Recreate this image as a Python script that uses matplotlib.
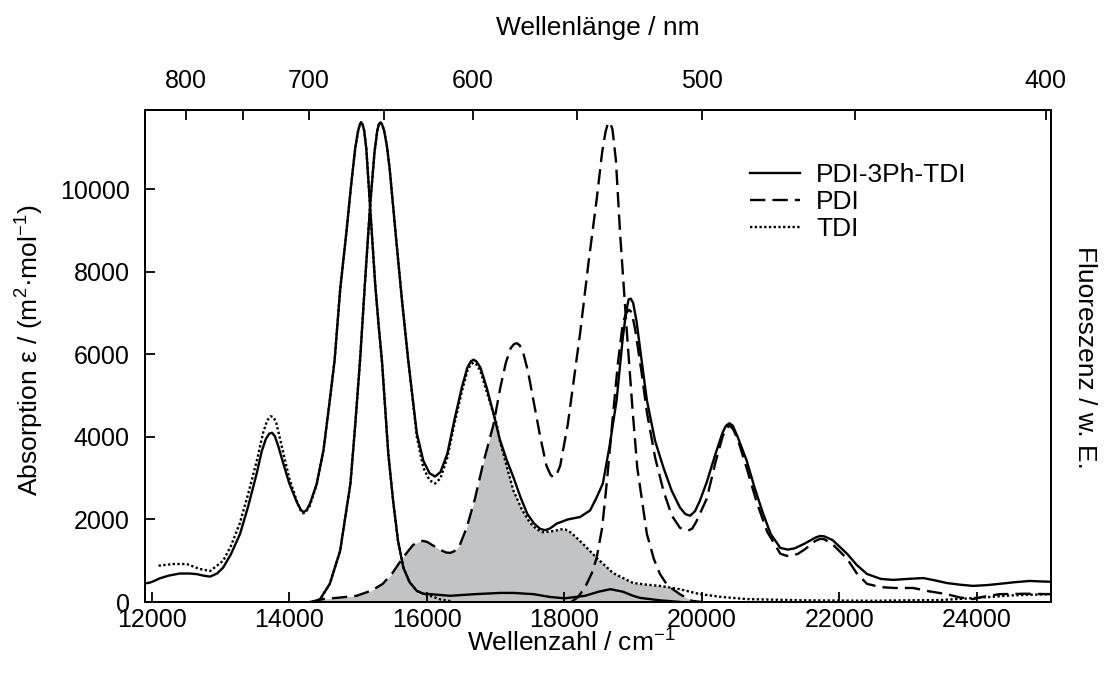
import numpy as np
import matplotlib
matplotlib.use("Agg")
import matplotlib.pyplot as plt
from matplotlib.lines import Line2D

plt.rcParams['font.family'] = ['Liberation Sans', 'DejaVu Sans']
plt.rcParams['mathtext.fontset'] = 'custom'
plt.rcParams['mathtext.rm'] = 'Liberation Sans'
plt.rcParams['mathtext.it'] = 'Liberation Sans:italic'

# ---------------- data (wavenumber in cm^-1) ----------------
# PDI-3Ph-TDI, low-energy branch
dyad_a_x = [11903, 11975, 12050, 12120, 12250, 12410, 12550, 12655, 12750, 12850, 12950, 13040,
            13150, 13285, 13400, 13525, 13600, 13660, 13710, 13750, 13790, 13840, 13915, 14000,
            14110, 14170, 14205, 14250, 14300, 14400, 14500, 14590, 14660, 14740, 14830, 14900,
            14960, 15000, 15025, 15045, 15065, 15090, 15120, 15175, 15250, 15300, 15350, 15440,
            15510, 15580, 15660, 15750, 15855, 15950, 16050, 16340, 16700, 17070, 17260, 17550,
            17800, 18010, 18300, 18500, 18670, 18850, 19000, 19100, 19390, 19700]
dyad_a_y = [450, 470, 520, 575, 640, 690, 690, 675, 640, 615, 690, 835,
            1150, 1650, 2300, 3100, 3650, 3950, 4080, 4100, 4020, 3780, 3350, 2880,
            2420, 2230, 2180, 2220, 2380, 2860, 3700, 4890, 5860, 7560, 8940, 10100,
            11000, 11400, 11560, 11620, 11580, 11420, 11000, 9600, 7700, 6700, 5800, 3600,
            2460, 1500, 830, 480, 270, 200, 190, 150, 190, 220, 220, 190,
            120, 90, 150, 250, 310, 250, 150, 100, 40, 0]
# PDI-3Ph-TDI, high-energy branch
dyad_b_x = [14350, 14450, 14590, 14740, 14890, 14960, 15030, 15100, 15175, 15240, 15280, 15305,
            15325, 15350, 15380, 15420, 15460, 15560, 15640, 15730, 15855, 15950, 16040, 16120,
            16200, 16300, 16400, 16510, 16590, 16640, 16680, 16720, 16780, 16870, 16970, 17060,
            17160, 17260, 17360, 17460, 17560, 17650, 17720, 17790, 17890, 18050, 18230, 18375,
            18460, 18560, 18660, 18760, 18850, 18900, 18935, 18965, 19000, 19050, 19120, 19200,
            19320, 19440, 19560, 19680, 19760, 19830, 19900, 19970, 20070, 20200, 20300, 20350,
            20400, 20450, 20520, 20650, 20770, 20890, 21000, 21140, 21250, 21350, 21500, 21650,
            21720, 21780, 21900, 22110, 22250, 22400, 22600, 22780, 23000, 23220, 23400, 23560,
            23750, 23940, 24150, 24330, 24550, 24770, 24900, 25076]
dyad_b_y = [0, 70, 440, 1240, 2870, 4300, 5860, 7700, 9580, 10900, 11420, 11580,
            11620, 11570, 11420, 11050, 10500, 8700, 7300, 5860, 4090, 3420, 3120, 3040,
            3150, 3600, 4400, 5200, 5680, 5830, 5870, 5830, 5680, 5200, 4570, 3950,
            3450, 3020, 2550, 2140, 1900, 1770, 1740, 1780, 1900, 2000, 2060, 2220,
            2500, 2870, 3800, 4890, 6400, 7050, 7330, 7350, 7250, 6800, 5900, 4890,
            3900, 3260, 2700, 2290, 2130, 2090, 2200, 2450, 2900, 3600, 4100, 4270,
            4330, 4270, 4000, 3430, 2750, 2140, 1650, 1310, 1270, 1300, 1420, 1560,
            1600, 1590, 1500, 1170, 900, 680, 560, 535, 560, 580, 520, 460,
            420, 390, 410, 440, 480, 510, 500, 490]

# TDI (dotted), low-energy branch
tdi_a_x = [12100, 12200, 12310, 12510, 12700, 12850, 13040, 13150, 13280, 13400, 13530, 13620,
           13680, 13730, 13770, 13810, 13860, 13915, 14000, 14110, 14170, 14205, 14250, 14300,
           14400, 14500, 14590, 14660, 14740, 14830, 14900, 14960, 15000, 15025, 15045, 15065,
           15090, 15120, 15175, 15250, 15300, 15350, 15440, 15510, 15580, 15660, 15750, 15855,
           15950, 16050, 16200, 16350]
tdi_a_y = [880, 900, 920, 920, 800, 750, 1000, 1350, 1900, 2600, 3430, 4100,
           4400, 4500, 4480, 4350, 4000, 3600, 3000, 2450, 2200, 2150, 2200, 2330,
           2850, 3700, 4890, 5860, 7560, 8940, 10100, 11000, 11400, 11560, 11620, 11580,
           11420, 11000, 9600, 7700, 6700, 5800, 3600, 2460, 1500, 830, 480, 270,
           200, 150, 60, 20]
# TDI (dotted), high-energy branch
tdi_b_x = [14350, 14450, 14590, 14740, 14890, 14960, 15030, 15100, 15175, 15240, 15280, 15305,
           15325, 15350, 15380, 15420, 15460, 15560, 15640, 15730, 15855, 15950, 16040, 16120,
           16200, 16300, 16400, 16510, 16590, 16640, 16680, 16720, 16780, 16870, 17015, 17060,
           17160, 17260, 17380, 17500, 17600, 17690, 17850, 17950, 18010, 18080, 18150, 18270,
           18470, 18710, 19000, 19200, 19390, 19680, 19970, 20300, 20650, 21500, 22500, 23500,
           24000, 24500, 25076]
tdi_b_y = [0, 70, 440, 1240, 2870, 4300, 5860, 7700, 9580, 10900, 11420, 11580,
           11620, 11570, 11420, 11050, 10500, 8700, 7300, 5860, 4000, 3250, 2950, 2870,
           3000, 3500, 4300, 5100, 5600, 5760, 5800, 5760, 5600, 5100, 4320, 3920,
           3300, 2700, 2250, 1920, 1760, 1690, 1720, 1760, 1760, 1700, 1600, 1410,
           1070, 700, 460, 420, 390, 310, 190, 120, 70, 40, 30, 50,
           100, 160, 190]

# PDI (dashed), emission
pdi_fl_x = [14300, 14490, 14750, 14980, 15200, 15360, 15500, 15650, 15800, 15880, 15940, 16000,
            16080, 16200, 16280, 16340, 16400, 16480, 16580, 16700, 16820, 16970, 17070, 17150,
            17220, 17270, 17310, 17350, 17400, 17470, 17550, 17650, 17740, 17800, 17840, 17880,
            17940, 18050, 18230, 18350, 18470, 18550, 18600, 18635, 18665, 18700, 18750, 18810,
            18910, 18990, 19060, 19200, 19300, 19390, 19500, 19680, 19850, 20000]
pdi_fl_y = [0, 70, 110, 150, 280, 440, 700, 1070, 1380, 1460, 1480, 1460,
            1380, 1260, 1200, 1190, 1230, 1380, 1800, 2500, 3360, 4300, 5200, 5800,
            6150, 6250, 6270, 6220, 6050, 5600, 4890, 4000, 3300, 3080, 3020, 3060,
            3300, 4300, 6520, 8200, 9750, 10900, 11400, 11600, 11620, 11450, 10700, 8950,
            6520, 4700, 3260, 1650, 1050, 680, 400, 190, 30, 0]
# PDI (dashed), absorption
pdi_abs_x = [18100, 18200, 18300, 18400, 18470, 18550, 18620, 18700, 18780, 18850, 18900, 18940,
             18980, 19030, 19120, 19200, 19320, 19440, 19560, 19680, 19750, 19800, 19860, 19920,
             20070, 20200, 20300, 20350, 20400, 20450, 20520, 20650, 20800, 20950, 21140, 21230,
             21310, 21400, 21500, 21650, 21720, 21780, 21900, 22110, 22250, 22400, 22600, 22800,
             23070, 23300, 23560, 23750, 23940, 24100, 24330, 24700, 25076]
pdi_abs_y = [0, 120, 350, 700, 1070, 1800, 2940, 4400, 5800, 6750, 7000, 7080,
             7020, 6600, 5600, 4600, 3500, 2700, 2100, 1800, 1740, 1730, 1780, 1950,
             2500, 3400, 4000, 4200, 4270, 4200, 3950, 3250, 2400, 1700, 1170, 1120,
             1120, 1170, 1280, 1480, 1530, 1520, 1400, 1050, 700, 440, 360, 340,
             340, 260, 190, 110, 70, 130, 190, 200, 190]

# spectral overlap (grey area, upper boundary)
overlap_x = [14300, 14490, 14750, 14980, 15200, 15360, 15500, 15650, 15800, 15880, 15940, 16000,
             16080, 16200, 16280, 16340, 16400, 16480, 16580, 16700, 16820, 16970, 17015, 17060,
             17160, 17260, 17380, 17500, 17600, 17690, 17850, 17950, 18010, 18080, 18150, 18270,
             18470, 18710, 19000, 19200, 19390, 19480, 19680, 19850, 20000]
overlap_y = [0, 70, 110, 150, 280, 440, 700, 1070, 1380, 1460, 1480, 1460,
             1380, 1260, 1200, 1190, 1230, 1380, 1800, 2500, 3360, 4300, 4320, 3920,
             3300, 2700, 2250, 1920, 1760, 1690, 1720, 1760, 1760, 1700, 1600, 1410,
             1070, 700, 460, 420, 390, 390, 190, 30, 0]

x_ticks = [12000, 14000, 16000, 18000, 20000, 22000, 24000]
y_ticks = [0, 2000, 4000, 6000, 8000, 10000]
nm_major = [800, 700, 600, 500, 400]
nm_minor = [750, 650, 550, 450]
legend_labels = ['PDI-3Ph-TDI', 'PDI', 'TDI']

# ---------------- figure ----------------
W, H = 1108, 677
fig = plt.figure(figsize=(W / 100, H / 100), dpi=100)
ax = fig.add_axes([145 / W, 1 - 602 / H, (1051 - 145) / W, (602 - 110) / H])

lw = 1.7
dash = (0, (6.5, 3.0))
dot = (0, (1.0, 1.0))

ax.fill_between(overlap_x, 0, overlap_y, color='#c2c3c5', lw=0, zorder=1)

ax.plot(dyad_a_x, dyad_a_y, color='black', lw=lw, ls='-', zorder=3)
ax.plot(dyad_b_x, dyad_b_y, color='black', lw=lw, ls='-', zorder=3)
ax.plot(pdi_fl_x, pdi_fl_y, color='black', lw=lw, ls=dash, zorder=3)
ax.plot(pdi_abs_x, pdi_abs_y, color='black', lw=lw, ls=dash, zorder=3)
ax.plot(tdi_a_x, tdi_a_y, color='black', lw=lw, ls=dot, zorder=4)
ax.plot(tdi_b_x, tdi_b_y, color='black', lw=lw, ls=dot, zorder=4)

ax.set_xlim(11903, 25076)
ax.set_ylim(0, 11920)
ax.set_xticks(x_ticks)
ax.set_yticks(y_ticks)
fs_tick = 18
fs_lab = 19
ax.tick_params(axis='x', direction='in', length=7, width=1.3, labelsize=fs_tick, pad=4,
               top=False)
ax.tick_params(axis='y', direction='in', length=7, width=1.3, labelsize=fs_tick, pad=11,
               right=False)
for s in ax.spines.values():
    s.set_linewidth(1.4)

ax2 = ax.twiny()
ax2.set_xlim(ax.get_xlim())
ax2.set_xticks([1e7 / v for v in nm_major])
ax2.set_xticklabels([str(v) for v in nm_major])
ax2.set_xticks([1e7 / v for v in nm_minor], minor=True)
ax2.tick_params(which='both', direction='in', length=7, width=1.3, labelsize=fs_tick, pad=12)
for s in ax2.spines.values():
    s.set_linewidth(1.4)

fig.text(571 / W, 1 - 643 / H, 'Wellenzahl / cm$^{-1}$', ha='center', va='center', fontsize=fs_lab)
fig.text(598 / W, 1 - 28 / H, 'Wellenlänge / nm', ha='center', va='center', fontsize=fs_lab)
fig.text(30 / W, 1 - 350 / H, 'Absorption ε / (m$^{2}$·mol$^{-1}$)', ha='center', va='center',
         rotation=90, fontsize=fs_lab)
fig.text(1085 / W, 1 - 357 / H, 'Fluoreszenz / w. E.', ha='center', va='center',
         rotation=270, fontsize=fs_lab)

handles = [Line2D([], [], color='black', lw=lw, ls='-'),
           Line2D([], [], color='black', lw=lw, ls=dash),
           Line2D([], [], color='black', lw=lw, ls=dot)]
ax.legend(handles, legend_labels, loc='upper left', bbox_to_anchor=(750 / W, 1 - 163 / H),
          bbox_transform=fig.transFigure, frameon=False, fontsize=fs_lab, handlelength=1.9,
          handletextpad=0.6, labelspacing=0.12, borderpad=0, borderaxespad=0)

fig.savefig('out.png', dpi=100)
